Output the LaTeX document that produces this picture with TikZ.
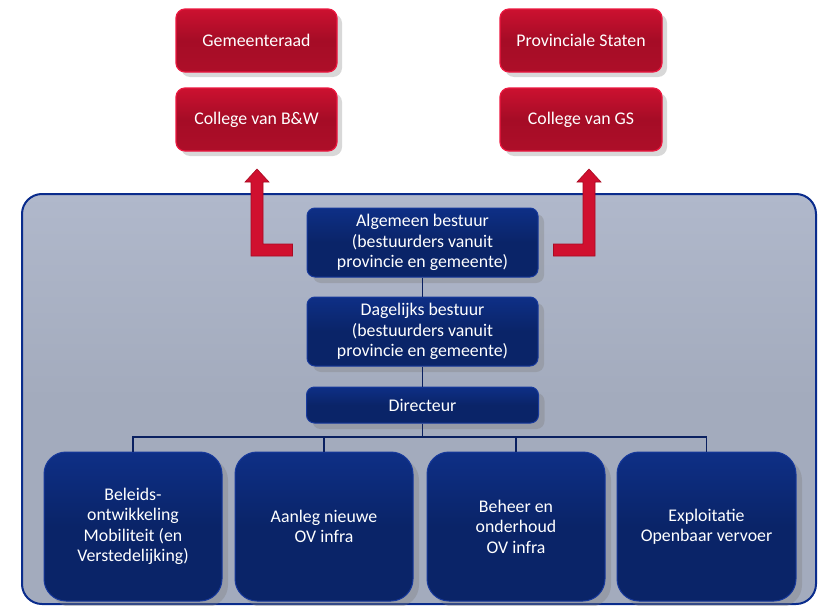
\documentclass[tikz,border=0pt]{standalone}
\usepackage{fontspec}
\setmainfont{Carlito}
\usetikzlibrary{shadows,calc}
\definecolor{redmain}{HTML}{A50C26}
\definecolor{redtop}{HTML}{CC1130}
\definecolor{rededge}{HTML}{EC1840}
\definecolor{navy}{HTML}{0A2468}
\definecolor{navytop}{HTML}{0E2F86}
\definecolor{navyedge}{HTML}{17399C}
\definecolor{panelfill}{HTML}{A3ABBD}
\definecolor{paneltop}{HTML}{B0B8CB}
\definecolor{panelline}{HTML}{0A2C8C}
\definecolor{arrowred}{HTML}{D0102F}
\definecolor{arrowdark}{HTML}{A80A22}
\definecolor{linecol}{HTML}{0A2060}
\tikzset{
  boxtext/.style={text=white, font=\fontsize{17.8}{20.5}\selectfont, align=center},
  redbox/.style={boxtext, rounded corners=9pt, draw=rededge, line width=1.2pt,
    top color=redtop, bottom color=redtop!85!black, middle color=redmain,
    minimum height=63pt, drop shadow={opacity=0.3, shadow xshift=5pt, shadow yshift=-5pt}},
  navybox/.style={boxtext, rounded corners=8pt, draw=navyedge, line width=1pt,
    top color=navytop, bottom color=navy, middle color=navy,
    drop shadow={opacity=0.35, shadow xshift=6pt, shadow yshift=-6pt}},
  unitbox/.style={navybox, rounded corners=22pt, minimum width=178pt, minimum height=149pt},
  conn/.style={draw=linecol, line width=1.6pt},
  bigarrow/.style={fill=arrowred, draw=arrowdark, line width=0.6pt, line join=miter}
}
\begin{document}
\begin{tikzpicture}[x=1pt,y=-1pt]
\useasboundingbox (0,0) rectangle (819,605);
\fill[white] (0,0) rectangle (819,605);
% panel
\path[draw=panelline, line width=2pt, rounded corners=20pt, top color=paneltop, bottom color=panelfill, middle color=panelfill]
  (22,194) rectangle (816,604);
% red boxes
\node[redbox, minimum width=161pt] (gr) at (256.5,40.5) {Gemeenteraad};
\node[redbox, minimum width=161pt] (bw) at (256.5,119.5) {College van B\&W};
\node[redbox, minimum width=162pt] (ps) at (581,40.5) {Provinciale Staten};
\node[redbox, minimum width=162pt] (gs) at (581,119.5) {College van GS};
% coordinates
\coordinate (bus) at (422.5,437);
% navy boxes
\node[navybox, minimum width=231pt, minimum height=69pt] (alg) at (422.5,242.5)
  {Algemeen bestuur\\(bestuurders vanuit\\provincie en gemeente)};
\node[navybox, minimum width=231pt, minimum height=69pt] (dag) at (422.5,331.5)
  {Dagelijks bestuur\\(bestuurders vanuit\\provincie en gemeente)};
\node[navybox, minimum width=232pt, minimum height=36pt] (dir) at (422.5,405) {Directeur};
\node[unitbox] (b1) at (133,526.5) {Beleids-\\ontwikkeling\\Mobiliteit (en\\Verstedelijking)};
\node[unitbox] (b2) at (324,526.5) {Aanleg nieuwe\\OV infra};
\node[unitbox] (b3) at (516,526.5) {Beheer en\\onderhoud\\OV infra};
\node[unitbox, minimum width=179pt] (b4) at (706.5,526.5) {Exploitatie\\Openbaar vervoer};
% connectors
\draw[conn] (alg.south) -- (dag.north);
\draw[conn] (dag.south) -- (dir.north);
\draw[conn] (dir.south) -- (bus);
\draw[conn] (bus) -| (b1.north);
\draw[conn] (bus) -| (b2.north);
\draw[conn] (bus) -| (b3.north);
\draw[conn] (bus) -| (b4.north);
% bent arrows
\path[bigarrow] ($(alg.west)+(-14,1.5)$) -- (263,244) -- (263,182) -- (269,182) -- (257,169)
  -- (245,182) -- (251,182) -- (251,256) -- ($(alg.west)+(-14,13.5)$) -- cycle;
\path[bigarrow] ($(alg.east)+(15,1.5)$) -- (583,244) -- (583,182) -- (577,182) -- (589,169)
  -- (601,182) -- (595,182) -- (595,256) -- ($(alg.east)+(15,13.5)$) -- cycle;
\end{tikzpicture}
\end{document}
